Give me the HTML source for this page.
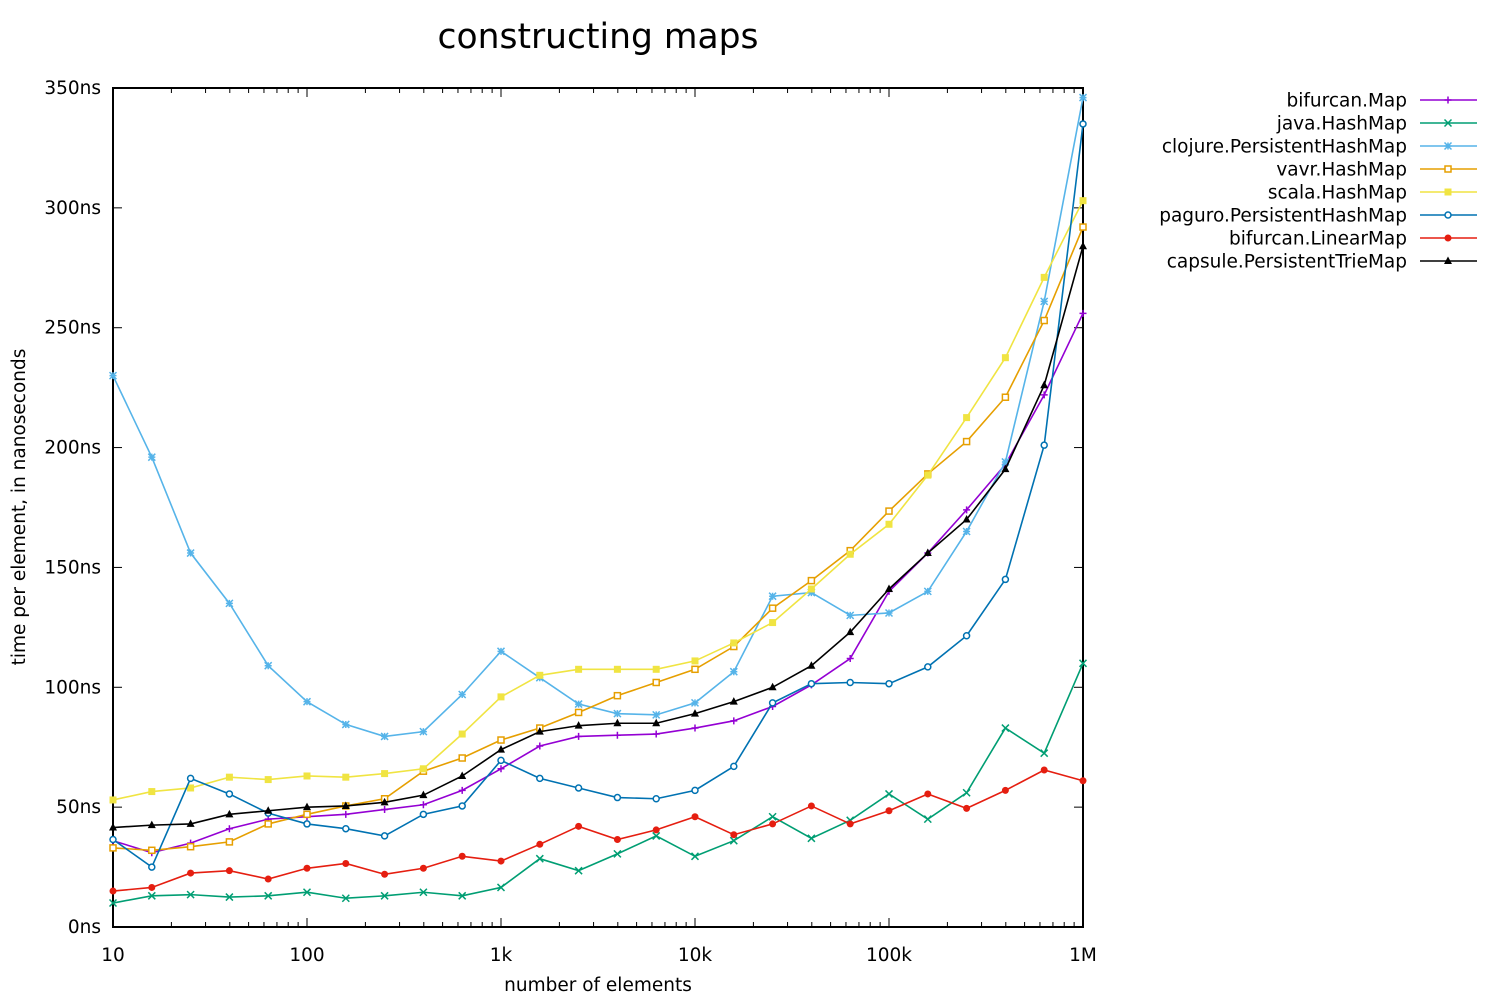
<!DOCTYPE html>
<html><head><meta charset="utf-8"><style>
html,body{margin:0;padding:0;background:#fff;}
svg text{font-family:"DejaVu Sans","Liberation Sans",sans-serif;}
</style></head><body>
<svg id="chart" width="1500" height="1000" xmlns="http://www.w3.org/2000/svg"></svg>
<script>
const xExponents = [1,1.2,1.4,1.6,1.8,2,2.2,2.4,2.6,2.8,3,3.2,3.4,3.6,3.8,4,4.2,4.4,4.6,4.8,5,5.2,5.4,5.6,5.8,6];
const seriesNames = ["bifurcan.Map","java.HashMap","clojure.PersistentHashMap","vavr.HashMap","scala.HashMap","paguro.PersistentHashMap","bifurcan.LinearMap","capsule.PersistentTrieMap"];
const bifurcanMap = [36,31,35,41,45,46,47,49,51,57,66,75.5,79.5,80,80.5,83,86,92,101,112,140,156,174,193,222,256];
const javaHashMap = [10,13,13.5,12.5,13,14.5,12,13,14.5,13,16.5,28.5,23.5,30.5,38,29.5,36,46,37,44.5,55.5,45,56,83,72.5,110];
const clojureMap = [230,196,156,135,109,94,84.5,79.5,81.5,97,115,104,93,89,88.5,93.5,106.5,138,139.5,130,131,140,165,194,261,346];
const vavrMap = [33,32,33.5,35.5,43,47,50.5,53.5,65,70.5,78,83,89.5,96.5,102,107.5,117,133,144.5,157,173.5,189,202.5,221,253,292];
const scalaMap = [53,56.5,58,62.5,61.5,63,62.5,64,66,80.5,96,105,107.5,107.5,107.5,111,118.5,127,141,155.5,168,188.5,212.5,237.5,271,303];
const paguroMap = [36.5,25,62,55.5,47.5,43,41,38,47,50.5,69.5,62,58,54,53.5,57,67,93.5,101.5,102,101.5,108.5,121.5,145,201,335];
const linearMap = [15,16.5,22.5,23.5,20,24.5,26.5,22,24.5,29.5,27.5,34.5,42,36.5,40.5,46,38.5,43,50.5,43,48.5,55.5,49.5,57,65.5,61];
const capsuleMap = [41.5,42.5,43,47,48.5,50,50.5,52,55,63,74,81.5,84,85,85,89,94,100,109,123,141,156,170,191,226,284];
const yTicks = [0,50,100,150,200,250,300,350];
const yTickLabels = ["0ns","50ns","100ns","150ns","200ns","250ns","300ns","350ns"];
const xTicks = [1,2,3,4,5,6];
const xTickLabels = ["10","100","1k","10k","100k","1M"];

const L=113,R=1083,T=88,B=927;
const FS=18.5;
const xs=e=>L+(e-1)/5*(R-L);
const ys=v=>B-v/350*(B-T);
const svg=document.getElementById('chart');
const NS="http://www.w3.org/2000/svg";
function mk(tag,attrs,parent){const el=document.createElementNS(NS,tag);for(const k in attrs)el.setAttribute(k,attrs[k]);(parent||svg).appendChild(el);return el;}

const title=mk('text',{x:598,y:48,'font-size':34.5,'text-anchor':'middle'});
title.textContent="constructing maps";



const tg=mk('g',{stroke:'#000','stroke-width':1});


yTicks.forEach((v,i)=>{
  const y=ys(v);
  mk('line',{x1:L,x2:L+9,y1:y,y2:y},tg);
  mk('line',{x1:R,x2:R-9,y1:y,y2:y},tg);
  const t=mk('text',{x:L-12,y:y+6,'font-size':FS,'text-anchor':'end'});
  t.textContent=yTickLabels[i];
  
  
});
xTicks.forEach((e,i)=>{
  const x=xs(e);
  mk('line',{x1:x,x2:x,y1:B,y2:B-9},tg);
  mk('line',{x1:x,x2:x,y1:T,y2:T+9},tg);
  if(e<6){for(let m=2;m<=9;m++){const xm=xs(e+Math.log10(m));
    mk('line',{x1:xm,x2:xm,y1:B,y2:B-5},tg);mk('line',{x1:xm,x2:xm,y1:T,y2:T+5},tg);}}
  const t=mk('text',{x:x,y:B+34,'font-size':FS,'text-anchor':'middle'});
  t.textContent=xTickLabels[i];
  
  
});
const frame=mk('rect',{x:L,y:T,width:R-L,height:B-T,fill:'none',stroke:'#000','stroke-width':2});



const xt=mk('text',{x:598,y:991,'font-size':FS,'text-anchor':'middle'});
xt.textContent="number of elements";


const yt=mk('text',{x:25,y:507,'font-size':FS,'text-anchor':'middle',transform:'rotate(-90 25 507)'});
yt.textContent="time per element, in nanoseconds";



const data=[bifurcanMap,javaHashMap,clojureMap,vavrMap,scalaMap,paguroMap,linearMap,capsuleMap];
const colors=["#9400d3","#009e73","#56b4e9","#e69f00","#f0e442","#0072b2","#e51e10","#000000"];
const markers=["plus","cross","star","osq","fsq","ocirc","fcirc","tri"];
function marker(g,type,x,y,c){
  const s=3.5;
  if(type==="plus"){mk('path',{d:`M${x-s} ${y}H${x+s}M${x} ${y-s}V${y+s}`,stroke:c,'stroke-width':1.5},g);}
  else if(type==="cross"){mk('path',{d:`M${x-s} ${y-s}L${x+s} ${y+s}M${x-s} ${y+s}L${x+s} ${y-s}`,stroke:c,'stroke-width':1.5},g);}
  else if(type==="star"){mk('path',{d:`M${x-s} ${y}H${x+s}M${x} ${y-s}V${y+s}M${x-s} ${y-s}L${x+s} ${y+s}M${x-s} ${y+s}L${x+s} ${y-s}`,stroke:c,'stroke-width':1.5},g);}
  else if(type==="osq"){mk('rect',{x:x-3,y:y-3,width:6,height:6,fill:'#fff',stroke:c,'stroke-width':1.5},g);}
  else if(type==="fsq"){mk('rect',{x:x-3.5,y:y-3.5,width:7,height:7,fill:c},g);}
  else if(type==="ocirc"){mk('circle',{cx:x,cy:y,r:3,fill:'#fff',stroke:c,'stroke-width':1.5},g);}
  else if(type==="fcirc"){mk('circle',{cx:x,cy:y,r:3.5,fill:c},g);}
  else if(type==="tri"){mk('path',{d:`M${x} ${y-4.5}L${x+4} ${y+3}L${x-4} ${y+3}Z`,fill:c},g);}
}
data.forEach((arr,si)=>{
  const g=mk('g',{});
  
  
  const pts=arr.map((v,i)=>xs(xExponents[i])+','+ys(v)).join(' ');
  mk('polyline',{points:pts,fill:'none',stroke:colors[si],'stroke-width':1.6},g);
  arr.forEach((v,i)=>marker(g,markers[si],xs(xExponents[i]),ys(v),colors[si]));
  const ly=100+si*23;
  const lg=mk('g',{});
  
  
  const t=mk('text',{x:1407,y:ly+6.5,'font-size':FS,'text-anchor':'end'},lg);
  t.textContent=seriesNames[si];
  mk('line',{x1:1420,x2:1477,y1:ly,y2:ly,stroke:colors[si],'stroke-width':1.6},lg);
  marker(lg,markers[si],1448,ly,colors[si]);
});
</script>
</body></html>
